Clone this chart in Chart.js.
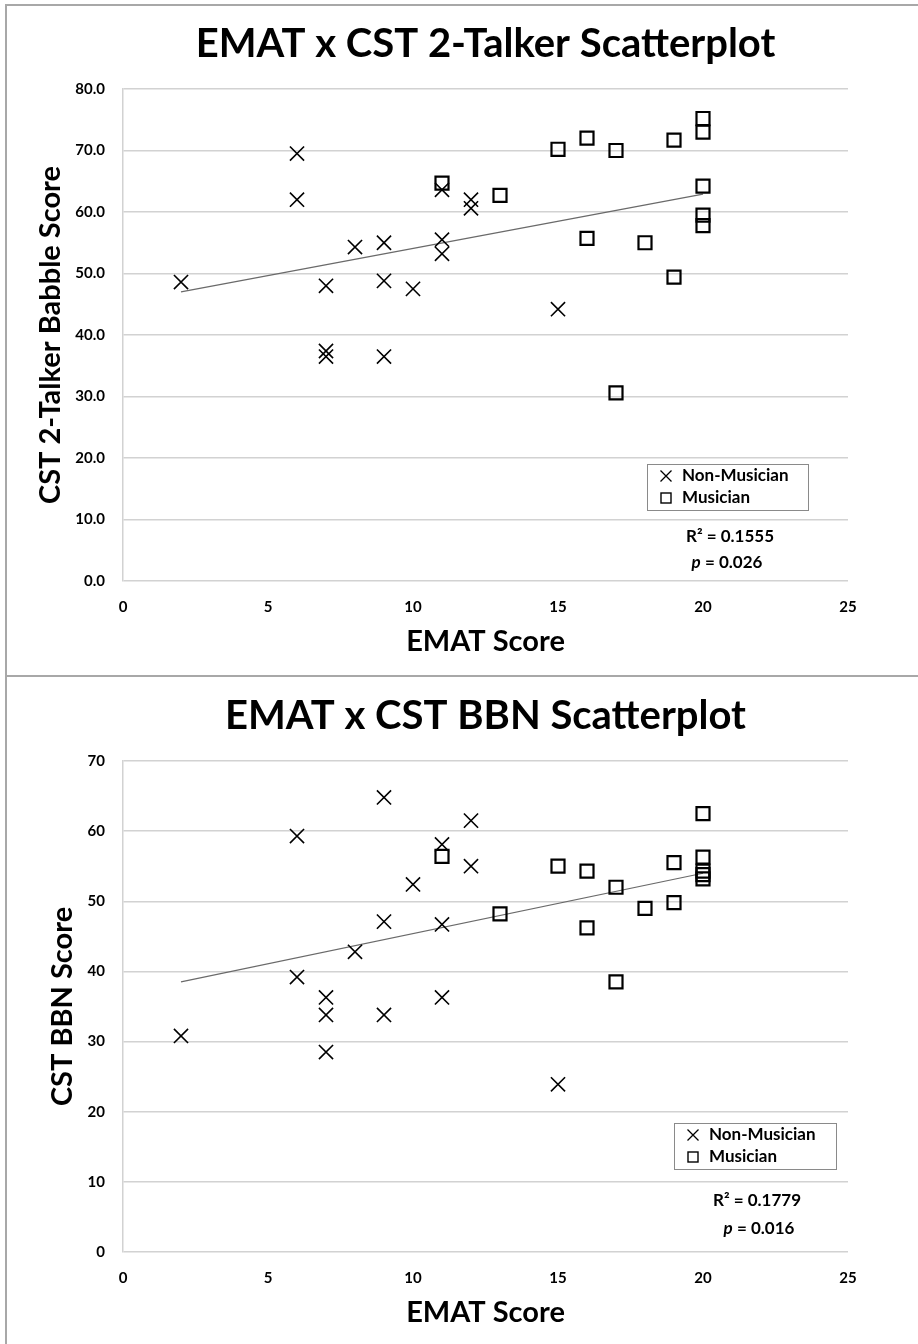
<!DOCTYPE html>
<html>
<head>
<meta charset="utf-8">
<script src="https://cdn.jsdelivr.net/npm/chart.js@4.4.1/dist/chart.umd.min.js"></script>
<style>
html,body{margin:0;padding:0;background:#fff;}
#wrap{position:relative;width:918px;height:1344px;overflow:hidden;background:#fff;}
.panel{position:absolute;left:0;width:918px;}
#p1{top:0;height:677px;}
#p2{top:677px;height:667px;}
.line{position:absolute;background:#a8a8a8;pointer-events:none;}
canvas{display:block;}
</style>
</head>
<body>
<div id="wrap">
  <div class="panel" id="p1"><canvas id="c1" width="918" height="677"></canvas></div>
  <div class="panel" id="p2"><canvas id="c2" width="918" height="667"></canvas></div>
  <div class="line" style="left:5px;top:4px;width:913px;height:2px"></div>
  <div class="line" style="left:5px;top:4px;width:2px;height:1340px"></div>
  <div class="line" style="left:5px;top:675px;width:913px;height:2px"></div>
</div>
<script>
// ---------- data: EMAT x CST 2-Talker ----------
const nonMusicianEMAT_2T = [2, 6, 6, 7, 7, 7, 8, 9, 9, 9, 10, 11, 11, 11, 12, 12, 15];
const nonMusicianCST_2T  = [48.6, 69.5, 62.0, 48.0, 37.4, 36.5, 54.3, 55.0, 48.8, 36.5, 47.5, 63.6, 55.5, 53.2, 62.0, 60.6, 44.2];
const musicianEMAT_2T    = [11, 13, 15, 16, 16, 17, 17, 18, 19, 19, 20, 20, 20, 20, 20];
const musicianCST_2T     = [64.7, 62.7, 70.2, 72.0, 55.7, 70.0, 30.6, 55.0, 71.7, 49.4, 75.2, 73.0, 64.2, 59.5, 57.8];
const trendEMAT_2T       = [2, 20];
const trendCST_2T        = [47.0, 62.9];

// ---------- data: EMAT x CST BBN ----------
const nonMusicianEMAT_BBN = [2, 6, 6, 7, 7, 7, 8, 9, 9, 9, 10, 11, 11, 11, 12, 12, 15];
const nonMusicianCST_BBN  = [30.8, 59.3, 39.2, 36.3, 33.8, 28.5, 42.8, 64.8, 47.1, 33.8, 52.4, 58.1, 46.7, 36.3, 61.5, 55.0, 23.9];
const musicianEMAT_BBN    = [11, 13, 15, 16, 16, 17, 17, 18, 19, 19, 20, 20, 20, 20, 20];
const musicianCST_BBN     = [56.4, 48.2, 55.0, 54.3, 46.2, 52.0, 38.5, 49.0, 55.5, 49.8, 62.5, 56.3, 54.3, 53.8, 53.2];
const trendEMAT_BBN       = [2, 20];
const trendCST_BBN        = [38.5, 54.0];

// ---------- labels ----------
const seriesLabels = ['Non-Musician', 'Musician'];
const chartTitles  = ['EMAT x CST 2-Talker Scatterplot', 'EMAT x CST BBN Scatterplot'];
const yTitles      = ['CST 2-Talker Babble Score', 'CST BBN Score'];
const xTitle       = 'EMAT Score';
const r2Values     = ['0.1555', '0.1779'];
const pValues      = ['0.026', '0.016'];

const FONT = "Lato, 'Open Sans', 'DejaVu Sans', sans-serif";
Chart.defaults.font.family = FONT;
Chart.defaults.color = '#000';

function pts(xs, ys) { return xs.map((x, i) => ({ x: x, y: ys[i] })); }

function drawMarker(ctx, style, x, y) {
  ctx.save();
  ctx.strokeStyle = '#000';
  if (style === 'crossRot') {
    ctx.lineWidth = 1.3;
    const h = 5.5;
    ctx.beginPath();
    ctx.moveTo(x - h, y - h); ctx.lineTo(x + h, y + h);
    ctx.moveTo(x + h, y - h); ctx.lineTo(x - h, y + h);
    ctx.stroke();
  } else {
    ctx.lineWidth = 1.4;
    ctx.strokeRect(x - 5, y - 5, 10, 10);
  }
  ctx.restore();
}

const insetPlugin = {
  id: 'inset',
  afterDraw(chart, args, o) {
    const ctx = chart.ctx;
    ctx.save();
    // legend box
    ctx.strokeStyle = '#8a8a8a';
    ctx.lineWidth = 1;
    ctx.strokeRect(o.box.x + 0.5, o.box.y + 0.5, o.box.w, o.box.h);
    ctx.fillStyle = '#000';
    ctx.textAlign = 'left';
    ctx.textBaseline = 'middle';
    ctx.font = 'bold 17px ' + FONT;
    const legendSets = chart.data.datasets.filter(d => d.inLegend);
    legendSets.forEach((d, i) => {
      const y = o.box.y + o.rows[i];
      drawMarker(ctx, d.pointStyle, o.box.x + 19, y);
      ctx.fillText(d.label, o.box.x + 35, y);
    });
    // statistics
    ctx.font = 'bold 17px ' + FONT;
    ctx.textAlign = 'center';
    ctx.fillText('R\u00B2 = ' + o.r2, o.r2x, o.r2y);
    ctx.textAlign = 'left';
    ctx.font = 'italic bold 17px ' + FONT;
    const wp = ctx.measureText('p').width;
    ctx.font = 'bold 17px ' + FONT;
    const rest = ' = ' + o.p;
    const wr = ctx.measureText(rest).width;
    const x0 = o.px - (wp + wr) / 2;
    ctx.font = 'italic bold 17px ' + FONT;
    ctx.fillText('p', x0, o.py);
    ctx.font = 'bold 17px ' + FONT;
    ctx.fillText(rest, x0 + wp, o.py);
    ctx.restore();
  }
};

function makeChart(canvasId, cfg) {
  return new Chart(document.getElementById(canvasId), {
    type: 'scatter',
    data: {
      datasets: [
        {
          label: seriesLabels[0], inLegend: true,
          data: pts(cfg.nonX, cfg.nonY),
          pointStyle: 'crossRot', pointRadius: 10, pointHoverRadius: 10,
          borderColor: '#000', backgroundColor: 'rgba(0,0,0,0)', borderWidth: 1.6
        },
        {
          label: seriesLabels[1], inLegend: true,
          data: pts(cfg.musX, cfg.musY),
          pointStyle: 'rect', pointRadius: 9.2, pointHoverRadius: 9.2,
          borderColor: '#000', backgroundColor: 'rgba(0,0,0,0)', borderWidth: 2.2
        },
        {
          label: 'Linear trend', inLegend: false,
          data: pts(cfg.trendX, cfg.trendY),
          showLine: true, pointRadius: 0, pointHoverRadius: 0,
          borderColor: '#6a6a6a', borderWidth: 1.2, fill: false
        }
      ]
    },
    options: {
      responsive: false,
      animation: false,
      events: [],
      layout: { padding: { left: 0, right: 70, top: 0, bottom: 0 } },
      plugins: {
        legend: { display: false },
        tooltip: { enabled: false },
        title: {
          display: true, text: cfg.title, fullSize: false, color: '#000',
          font: { family: FONT, size: 40, weight: 'bold', lineHeight: 1.2 },
          padding: { top: cfg.titleTop, bottom: cfg.titleBottom }
        },
        inset: cfg.inset
      },
      scales: {
        x: {
          type: 'linear', min: 0, max: 25,
          ticks: { stepSize: 5, padding: 17, color: '#000', font: { family: FONT, size: 15, weight: 'bold' } },
          grid: { display: false, drawTicks: false },
          border: { display: false },
          title: {
            display: true, text: xTitle, color: '#000',
            font: { family: FONT, size: 29, weight: 'bold', lineHeight: 1.2 },
            padding: { top: 0, bottom: cfg.xTitleBottom }
          },
          afterFit(s) { s.height = cfg.xAxisHeight; }
        },
        y: {
          type: 'linear', min: 0, max: cfg.yMax,
          ticks: {
            stepSize: 10, padding: 18, color: '#000',
            font: { family: FONT, size: 15, weight: 'bold' },
            callback: cfg.yFormat
          },
          grid: { color: '#d2d2d2', lineWidth: 1.5, drawTicks: false },
          border: { display: true, color: '#d2d2d2', width: 1.5 },
          title: {
            display: true, text: cfg.yTitle, color: '#000',
            font: { family: FONT, size: 29, weight: 'bold', lineHeight: 1.2 },
            padding: { top: cfg.yTitlePad, bottom: 0 }
          },
          afterFit(s) { s.width = 123; }
        }
      }
    },
    plugins: [insetPlugin]
  });
}

makeChart('c1', {
  nonX: nonMusicianEMAT_2T, nonY: nonMusicianCST_2T,
  musX: musicianEMAT_2T, musY: musicianCST_2T,
  trendX: trendEMAT_2T, trendY: trendCST_2T,
  title: chartTitles[0], titleTop: 19.7, titleBottom: 21.3,
  yTitle: yTitles[0], yTitlePad: 33, yMax: 80,
  yFormat: v => Number(v).toFixed(1),
  xAxisHeight: 96, xTitleBottom: 17.6,
  inset: { box: { x: 647, y: 464, w: 161, h: 46 }, rows: [12, 34],
           r2: r2Values[0], r2x: 730, r2y: 537, p: pValues[0], px: 727, py: 563 }
});

makeChart('c2', {
  nonX: nonMusicianEMAT_BBN, nonY: nonMusicianCST_BBN,
  musX: musicianEMAT_BBN, musY: musicianCST_BBN,
  trendX: trendEMAT_BBN, trendY: trendCST_BBN,
  title: chartTitles[1], titleTop: 14.7, titleBottom: 21.3,
  yTitle: yTitles[1], yTitlePad: 45.6, yMax: 70,
  yFormat: v => String(v),
  xAxisHeight: 92, xTitleBottom: 13.6,
  inset: { box: { x: 674, y: 446, w: 162, h: 46 }, rows: [12, 34],
           r2: r2Values[1], r2x: 757, r2y: 524, p: pValues[1], px: 759, py: 552 }
});
</script>
</body>
</html>
